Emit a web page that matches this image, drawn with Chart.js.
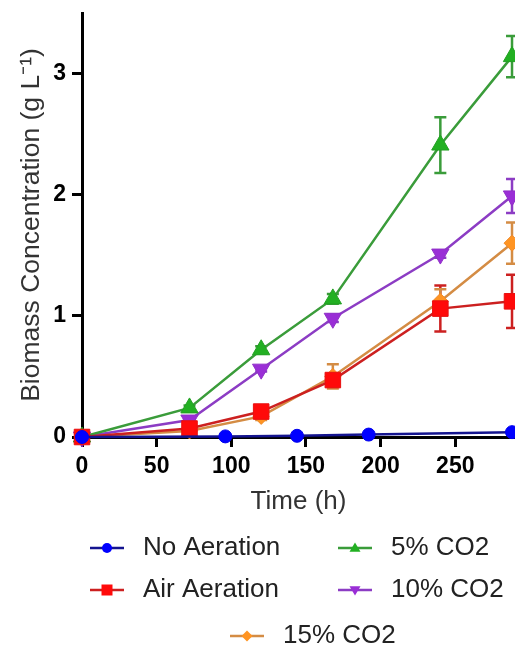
<!DOCTYPE html>
<html>
<head>
<meta charset="utf-8">
<script src="https://cdn.jsdelivr.net/npm/chart.js@4"></script>
<style>
  html, body { margin: 0; padding: 0; background: #fff; }
  #grafico { display: block; }
</style>
</head>
<body>
<canvas id="grafico" width="515" height="646"></canvas>
<script>
// tempos de amostragem (h)
const tempos = [0, 72, 120, 168, 240, 288];
const temposSemAeracao = [0, 96, 144, 192, 288];

// biomassa (g/L) por condição
const semAeracao = [0.0, 0.005, 0.01, 0.02, 0.04];
const arAeracao  = [0.0, 0.07, 0.21, 0.47, 1.06, 1.12];
const co2_5      = [0.0, 0.24, 0.72, 1.14, 2.41, 3.14];
const co2_10     = [0.0, 0.14, 0.56, 0.98, 1.51, 1.99];
const co2_15     = [0.0, 0.05, 0.17, 0.50, 1.12, 1.60];

// desvios (barras de erro)
const erroSemAeracao = [0, 0, 0, 0, 0];
const erroAr     = [0, 0.02, 0.03, 0.05, 0.19, 0.22];
const erroCo2_5  = [0, 0.02, 0.03, 0.04, 0.23, 0.17];
const erroCo2_10 = [0, 0.01, 0.02, 0.03, 0.03, 0.14];
const erroCo2_15 = [0, 0.01, 0.03, 0.10, 0.10, 0.17];

const xTicks = [0, 50, 100, 150, 200, 250];
const yTicks = [0, 1, 2, 3];

const fonte = "'Liberation Sans', Arial, sans-serif";

function pontos(xs, ys) { return xs.map((x, i) => ({ x, y: ys[i] })); }

// marcador simples para a legenda
function marcador(ctx, estilo, x, y, r) {
  ctx.beginPath();
  if (estilo === 'circle') ctx.arc(x, y, r, 0, 2 * Math.PI);
  else if (estilo === 'rect') ctx.rect(x - r, y - r, 2 * r, 2 * r);
  else if (estilo === 'rectRot') { ctx.moveTo(x, y - r); ctx.lineTo(x + r, y); ctx.lineTo(x, y + r); ctx.lineTo(x - r, y); ctx.closePath(); }
  else if (estilo === 'triangleUp') { ctx.moveTo(x, y - r); ctx.lineTo(x + r, y + r * 0.7); ctx.lineTo(x - r, y + r * 0.7); ctx.closePath(); }
  else if (estilo === 'triangleDown') { ctx.moveTo(x, y + r); ctx.lineTo(x + r, y - r * 0.7); ctx.lineTo(x - r, y - r * 0.7); ctx.closePath(); }
  ctx.fill();
}

const datasets = [
  { label: 'No Aeration', data: pontos(temposSemAeracao, semAeracao), erro: erroSemAeracao,
    borderColor: '#14148f', pointBackgroundColor: '#0000ff', pointBorderColor: '#0000ee',
    pointStyle: 'circle', pointRadius: 6.5, legenda: 'circle', legX: 107, legY: 548 },
  { label: 'Air Aeration', data: pontos(tempos, arAeracao), erro: erroAr,
    borderColor: '#cc2020', pointBackgroundColor: '#ff0a0a', pointBorderColor: '#e81010',
    pointStyle: 'rect', pointRadius: 11, legenda: 'rect', legX: 107, legY: 590 },
  { label: '5% CO2', data: pontos(tempos, co2_5), erro: erroCo2_5,
    borderColor: '#3a9c3a', pointBackgroundColor: '#22b022', pointBorderColor: '#22a022',
    pointStyle: 'triangle', pointRadius: 10, legenda: 'triangleUp', legX: 355, legY: 548 },
  { label: '10% CO2', data: pontos(tempos, co2_10), erro: erroCo2_10,
    borderColor: '#8c3cc4', pointBackgroundColor: '#9a2ed6', pointBorderColor: '#9030c8',
    pointStyle: 'triangle', pointRotation: 180, pointRadius: 10, legenda: 'triangleDown', legX: 355, legY: 590 },
  { label: '15% CO2', data: pontos(tempos, co2_15), erro: erroCo2_15,
    borderColor: '#d48c44', pointBackgroundColor: '#ff9422', pointBorderColor: '#f08a2a',
    pointStyle: 'rectRot', pointRadius: 8, legenda: 'rectRot', legX: 247, legY: 636 }
].map(d => Object.assign({ borderWidth: 2.5, pointBorderWidth: 1, tension: 0, clip: false, fill: false }, d));

// barras de erro desenhadas com as escalas do gráfico
const barrasErro = {
  id: 'barrasErro',
  beforeDatasetsDraw(chart) {
    const { ctx, scales: { x, y } } = chart;
    chart.data.datasets.forEach(ds => {
      ctx.save();
      ctx.strokeStyle = ds.borderColor;
      ctx.lineWidth = 2.5;
      ds.data.forEach((p, j) => {
        const e = ds.erro[j];
        if (!e) return;
        const px = x.getPixelForValue(p.x);
        const topo = y.getPixelForValue(p.y + e);
        const base = y.getPixelForValue(Math.max(p.y - e, 0));
        ctx.beginPath();
        ctx.moveTo(px, topo); ctx.lineTo(px, base);
        ctx.moveTo(px - 6, topo); ctx.lineTo(px + 6, topo);
        ctx.moveTo(px - 6, base); ctx.lineTo(px + 6, base);
        ctx.stroke();
      });
      ctx.restore();
    });
  }
};

// legenda em duas colunas, com a última entrada centrada
const legenda = {
  id: 'legenda',
  afterDraw(chart) {
    const ctx = chart.ctx;
    ctx.save();
    chart.data.datasets.forEach(ds => {
      const cx = ds.legX, cy = ds.legY;
      ctx.strokeStyle = ds.borderColor;
      ctx.lineWidth = 2.5;
      ctx.beginPath();
      ctx.moveTo(cx - 17, cy); ctx.lineTo(cx + 17, cy);
      ctx.stroke();
      ctx.fillStyle = ds.pointBackgroundColor;
      marcador(ctx, ds.legenda, cx, cy, ds.legenda === 'circle' ? 5 : 5.5);
      ctx.fillStyle = '#222';
      ctx.font = '26px ' + fonte;
      ctx.textBaseline = 'middle';
      ctx.textAlign = 'left';
      ctx.fillText(ds.label, cx + 36, cy);
    });
    ctx.restore();
  }
};

new Chart(document.getElementById('grafico'), {
  type: 'line',
  data: { datasets },
  plugins: [barrasErro, legenda],
  options: {
    responsive: false,
    animation: false,
    layout: { autoPadding: false, padding: { top: 13, right: 0, bottom: 129, left: 0 } },
    plugins: { legend: { display: false }, tooltip: { enabled: false } },
    scales: {
      x: {
        type: 'linear', min: 0, max: 290,
        afterBuildTicks: s => { s.ticks = xTicks.map(v => ({ value: v })); },
        afterFit: s => { s.height = 80; s.paddingLeft = 0; s.paddingRight = 0; },
        grid: { drawOnChartArea: false, drawTicks: true, tickLength: 10, tickWidth: 3, tickColor: '#000' },
        border: { color: '#000', width: 3 },
        ticks: { color: '#000', padding: 6, maxRotation: 0, font: { family: fonte, size: 23, weight: 'bold' } },
        title: { display: true, text: 'Time (h)', color: '#333', padding: { top: 0, bottom: 0 }, font: { family: fonte, size: 26 } }
      },
      y: {
        type: 'linear', min: 0, max: 3.5,
        afterBuildTicks: s => { s.ticks = yTicks.map(v => ({ value: v })); },
        afterFit: s => { s.width = 82; s.paddingTop = 0; s.paddingBottom = 0; },
        grid: { drawOnChartArea: false, drawTicks: true, tickLength: 10, tickWidth: 3, tickColor: '#000' },
        border: { color: '#000', width: 3 },
        ticks: { color: '#000', padding: 6, font: { family: fonte, size: 23, weight: 'bold' } },
        title: { display: true, text: 'Biomass Concentration (g L⁻¹)', color: '#333', padding: { top: 16, bottom: 0 }, font: { family: fonte, size: 26.5 } }
      }
    }
  }
});
</script>
</body>
</html>
